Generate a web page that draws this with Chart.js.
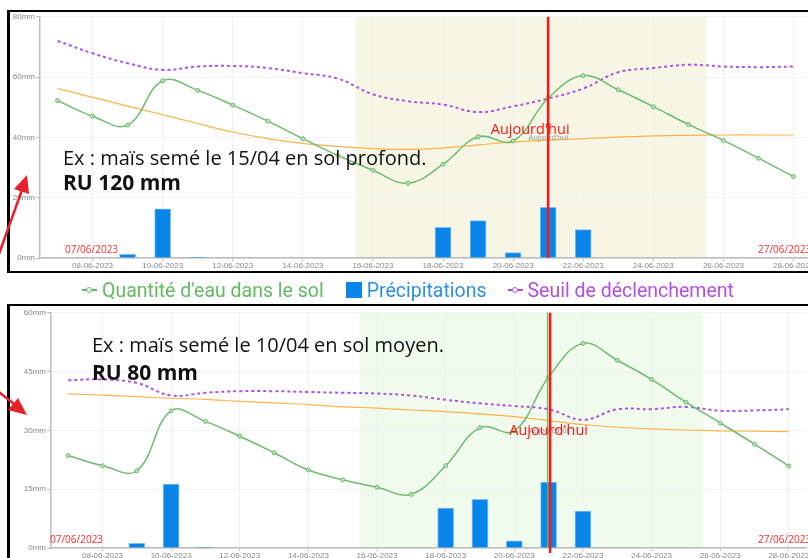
<!DOCTYPE html>
<html lang="fr">
<head>
<meta charset="UTF-8">
<title>Bilan hydrique - maïs</title>
<script src="https://cdn.jsdelivr.net/npm/chart.js"></script>
<style>
  body { margin: 0; width: 808px; height: 558px; overflow: hidden; background: #fff; position: relative; font-family: 'Open Sans', sans-serif; }
  .graph { position: absolute; left: 10px; width: 808px; }
  .cadre { position: absolute; left: 7px; width: 830px; border: 2px solid #000; border-left-width: 3px; border-right: none; box-sizing: border-box; pointer-events: none; }
  .note { position: absolute; white-space: nowrap; color: #111; line-height: 1; }
  .date { position: absolute; color: #ff2a2a; font-size: 10px; line-height: 10px; white-space: nowrap; }
  #legende { position: absolute; left: 82px; top: 279px; height: 22px; display: flex; align-items: center; font-family: Roboto, sans-serif; font-size: 19.5px; white-space: nowrap; }
  #legende span { display: inline-flex; align-items: center; }
  .puce { position: relative; width: 15px; height: 10px; margin-right: 5px; }
  .puce::before { content: ''; position: absolute; left: 0; right: 0; top: 4px; height: 2px; background: currentColor; }
  .puce::after { content: ''; position: absolute; left: 4px; top: 2px; width: 4px; height: 4px; border: 1.5px solid currentColor; border-radius: 50%; background: #fff; }
  .carre { width: 16px; height: 16px; background: #0984e8; margin-right: 5px; }
  svg { position: absolute; left: 0; top: 0; pointer-events: none; }
</style>
</head>
<body>
  <div class="graph" style="top: 11px; height: 259px;"><canvas id="profond"></canvas></div>
  <div class="graph" style="top: 307px; height: 253px;"><canvas id="moyen"></canvas></div>

  <div class="cadre" style="top: 10px; height: 263px;"></div>
  <div class="cadre" style="top: 304px; height: 300px;"></div>

  <div class="note" style="left: 63px; top: 148px; font-size: 20px;">Ex : maïs semé le 15/04 en sol profond.</div>
  <div class="note" style="left: 63px; top: 172px; font-size: 21px; font-weight: bold;">RU 120 mm</div>
  <div class="note" style="left: 92px; top: 335px; font-size: 20px;">Ex : maïs semé le 10/04 en sol moyen.</div>
  <div class="note" style="left: 92px; top: 362px; font-size: 21px; font-weight: bold;">RU 80 mm</div>

  <div class="date" style="left: 65px; top: 244px;">07/06/2023</div>
  <div class="date" style="left: 758px; top: 244px;">27/06/2023</div>
  <div class="date" style="left: 50px; top: 534px;">07/06/2023</div>
  <div class="date" style="left: 758px; top: 534px;">27/06/2023</div>

  <div id="legende">
    <span style="color: #62bb62;"><i class="puce"></i>Quantité d'eau dans le sol</span>
    <span style="color: #2b8fe6; margin-left: 22px;"><i class="carre"></i>Précipitations</span>
    <span style="color: #b150e0; margin-left: 21px;"><i class="puce"></i>Seuil de déclenchement</span>
  </div>

  <svg width="808" height="558">
    <g fill="#e8202a" stroke="#e8202a" stroke-width="2.5">
      <line x1="-6" y1="268" x2="22" y2="190" />
      <polygon points="27,175 29,194 14,189" stroke="none" />
      <line x1="-6" y1="388" x2="14" y2="404" />
      <polygon points="27,415 8,410 18,398" stroke="none" />
    </g>
  </svg>

<script>
// jours du 07/06 au 28/06/2023
const jours = ['07-06-2023', '08-06-2023', '09-06-2023', '10-06-2023', '11-06-2023', '12-06-2023',
  '13-06-2023', '14-06-2023', '15-06-2023', '16-06-2023', '17-06-2023', '18-06-2023', '19-06-2023',
  '20-06-2023', '21-06-2023', '22-06-2023', '23-06-2023', '24-06-2023', '25-06-2023', '26-06-2023',
  '27-06-2023', '28-06-2023'];

// précipitations (mm), identiques pour les deux parcelles
const pluie = [null, null, 1.2, 16.3, 0.2, null, null, null, null, null, null,
  10.2, 12.4, 1.8, 16.8, 9.4, null, null, null, null, null, null];

// sol profond, RU 120 mm
const eauProfond = [52.2, 47.0, 44.1, 58.8, 55.6, 50.7, 45.4, 39.6, 34.0, 29.1, 24.8,
  31.1, 40.2, 38.8, 53.0, 60.5, 55.8, 50.2, 44.3, 39.0, 33.1, 27.0];
const seuilProfond = [72.0, 67.9, 64.6, 62.4, 63.5, 63.7, 63.0, 61.3, 59.5, 54.3, 52.0,
  50.9, 48.4, 50.3, 52.9, 56.2, 61.6, 63.0, 64.1, 63.5, 63.3, 63.5];
const rfuProfond = [56.2, 53.3, 50.4, 47.5, 44.6, 41.8, 39.6, 38.0, 37.0, 36.3, 36.0,
  36.5, 37.5, 38.5, 39.1, 39.6, 40.1, 40.5, 40.7, 40.8, 40.8, 40.8];

// sol moyen, RU 80 mm
const eauMoyen = [23.6, 21.0, 19.7, 35.0, 32.3, 28.5, 24.3, 19.9, 17.4, 15.5, 13.7,
  21.0, 30.7, 29.9, 43.6, 52.2, 47.9, 43.0, 37.2, 31.9, 26.5, 20.9];
const seuilMoyen = [42.8, 43.0, 42.1, 38.9, 39.6, 40.0, 40.0, 39.8, 39.6, 39.4, 38.9,
  37.8, 36.9, 36.2, 35.4, 32.7, 35.4, 35.4, 36.0, 35.0, 35.1, 35.4];
const rfuMoyen = [39.3, 39.0, 38.6, 38.2, 37.9, 37.4, 37.0, 36.6, 36.0, 35.7, 35.2,
  34.8, 34.2, 33.5, 32.5, 31.5, 30.8, 30.4, 30.1, 29.9, 29.8, 29.7];

const aujourdhui = 14;       // 21-06-2023
const periode = [9, 18];     // 16-06 -> 25-06

const repereJour = {
  id: 'repereJour',
  beforeDraw(chart, args, o) {
    const { ctx, chartArea: a, scales: { x } } = chart;
    const x1 = x.getPixelForValue(periode[0] - 0.5);
    const x2 = x.getPixelForValue(periode[1] + 0.5);
    ctx.save();
    ctx.fillStyle = o.fond;
    ctx.fillRect(x1, a.top, x2 - x1, a.bottom - a.top);
    ctx.restore();
  },
  afterDatasetsDraw(chart, args, o) {
    const { ctx, chartArea: a, scales: { x } } = chart;
    const xt = x.getPixelForValue(aujourdhui);
    const milieu = (a.top + a.bottom) / 2;
    ctx.save();
    ctx.textAlign = 'center';
    ctx.textBaseline = 'middle';
    if (o.ligne) {
      ctx.strokeStyle = o.ligne;
      ctx.lineWidth = 1.5;
      ctx.beginPath(); ctx.moveTo(xt - 1, a.top); ctx.lineTo(xt - 1, a.bottom); ctx.stroke();
    }
    ctx.font = '8px Arial';
    ctx.fillStyle = '#999';
    ctx.fillText("Aujourd'hui", xt, milieu);
    ctx.strokeStyle = '#ff1414';
    ctx.lineWidth = 2.5;
    ctx.beginPath(); ctx.moveTo(xt + o.dxLigne, a.top); ctx.lineTo(xt + o.dxLigne, a.bottom + o.depasse); ctx.stroke();
    ctx.font = "14.5px 'Open Sans'";
    ctx.fillStyle = '#ff1414';
    ctx.fillText("Aujourd'hui", xt + o.dx, milieu + o.dy);
    ctx.restore();
  }
};

function creerGraphique(id, eau, seuil, rfu, maxY, pas, largeurY, margeDroite, opts) {
  return new Chart(document.getElementById(id), {
    type: 'bar',
    data: {
      labels: jours,
      datasets: [
        {
          type: 'line', label: "Quantité d'eau dans le sol", data: eau,
          borderColor: '#6cbd6c', borderWidth: 1.5, tension: 0.4,
          pointRadius: 2, pointBorderWidth: 1, pointBackgroundColor: '#b9e0b9', pointBorderColor: '#6cbd6c',
          order: 1
        },
        {
          type: 'line', label: 'Seuil de déclenchement', data: seuil,
          borderColor: '#b150e8', borderWidth: 2, borderDash: [3, 3], tension: 0.4,
          pointRadius: 0, order: 2
        },
        {
          type: 'line', label: 'RFU', data: rfu,
          borderColor: '#ffb347', borderWidth: 1.2, tension: 0.4,
          pointRadius: 0, order: 3
        },
        {
          label: 'Précipitations', data: pluie,
          backgroundColor: '#0984e8', borderColor: '#7cc0f5', borderWidth: 1,
          barThickness: 16, order: 4
        }
      ]
    },
    options: {
      responsive: true,
      maintainAspectRatio: false,
      animation: false,
      layout: { padding: { top: 4, right: margeDroite, left: 0, bottom: 0 } },
      plugins: {
        legend: { display: false },
        tooltip: { enabled: false },
        repereJour: opts
      },
      scales: {
        x: {
          offset: true,
          afterFit(s) { s.height = 12; },
          grid: { offset: false, color: '#f0f0f0', tickColor: '#bbb', tickLength: 3 },
          border: { color: '#bbb', width: 1.5 },
          ticks: {
            autoSkip: false, maxRotation: 0, padding: 0,
            font: { size: 8 }, color: '#888',
            callback: (v, i) => (i % 2 === 1 ? jours[i] : null)
          }
        },
        y: {
          min: 0, max: maxY,
          afterFit(s) { s.width = largeurY; },
          grid: { color: '#f2f2f2', tickColor: '#bbb', tickLength: 4 },
          border: { color: '#bbb', width: 1.5 },
          ticks: {
            stepSize: pas, padding: 1,
            font: { size: 8 }, color: '#888',
            callback: v => v + 'mm'
          }
        }
      }
    },
    plugins: [repereJour]
  });
}

creerGraphique('profond', eauProfond, seuilProfond, rfuProfond, 80, 20, 30, 7,
  { fond: '#f7f6e4', dx: -18, dy: -8, dxLigne: 0, depasse: 0, ligne: null });
creerGraphique('moyen', eauMoyen, seuilMoyen, rfuMoyen, 60, 15, 41, 12,
  { fond: '#f0fbee', dx: 0, dy: 0, dxLigne: 1.5, depasse: 5, ligne: 'rgba(100,185,100,0.9)' });
</script>
</body>
</html>
